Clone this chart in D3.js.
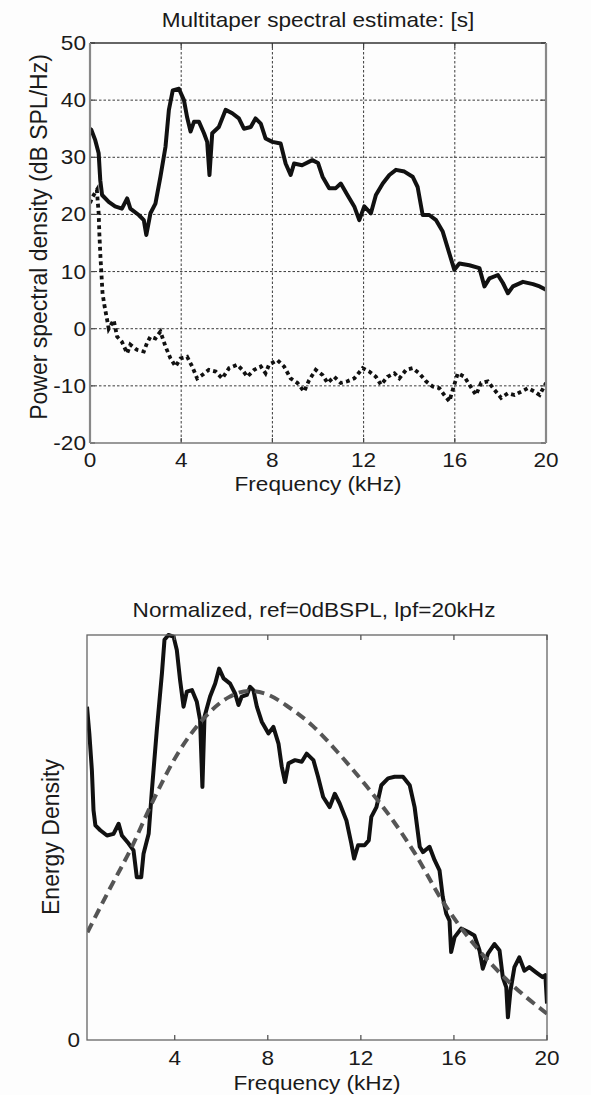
<!DOCTYPE html>
<html>
<head>
<meta charset="utf-8">
<script src="https://cdn.jsdelivr.net/npm/d3@7"></script>
<style>
  html, body { margin: 0; padding: 0; background: #fdfdfd; }
  svg { display: block; }
  text { font-family: "Liberation Sans", Arial, Helvetica, sans-serif; fill: #1a1a1a; }
</style>
</head>
<body>
<script>
// ---- Multitaper PSD (dB SPL/Hz), solid trace ----
const psdFreq = [0.0, 0.06, 0.23, 0.38, 0.45, 0.53, 0.82, 1.1, 1.4, 1.63, 1.77, 2.14, 2.36, 2.47, 2.65, 2.87,
  3.09, 3.31, 3.46, 3.63, 3.9, 4.12, 4.26, 4.41, 4.56, 4.78, 5.0, 5.14, 5.24, 5.36, 5.65, 5.95, 6.24, 6.53,
  6.75, 7.05, 7.26, 7.49, 7.7, 8.0, 8.36, 8.58, 8.8, 8.95, 9.3, 9.75, 10.0, 10.2, 10.49, 10.78, 11.0, 11.29,
  11.59, 11.81, 12.03, 12.32, 12.54, 12.84, 13.13, 13.42, 13.79, 14.15, 14.37, 14.59, 14.88, 15.18, 15.47,
  15.69, 15.98, 16.2, 16.64, 17.08, 17.3, 17.52, 17.89, 18.11, 18.33, 18.55, 18.99, 19.43, 19.72, 20.0];
const psdDb = [35, 34.8, 33, 30.7, 26, 23.4, 22.2, 21.4, 21, 22.8, 21, 19.9, 19, 16.4, 20.2, 21.9,
  26.6, 31.8, 38.3, 41.7, 42, 40, 37, 34.5, 36.2, 36.2, 34.2, 32.7, 26.9, 34.2, 35.3, 38.3, 37.7, 36.8,
  35, 35.3, 36.8, 35.9, 33.3, 32.7, 32.4, 28.9, 26.9, 28.9, 28.6, 29.5, 29.0, 26.6, 24.6, 24.6, 25.4, 23.4,
  21.4, 19, 21.4, 20.2, 23.4, 25.4, 26.9, 27.8, 27.5, 26.6, 24.8, 19.9, 19.9, 19, 17,
  14.1, 10.3, 11.4, 11.1, 10.6, 7.4, 8.8, 9.4, 8, 6.2, 7.4, 8.2, 7.8, 7.4, 6.8];

// ---- Noise floor (dB SPL/Hz), dotted trace ----
const noiseFreq = [0.0, 0.1, 0.3, 0.38, 0.41, 0.45, 0.5, 0.55, 0.64, 0.74, 0.82, 1.04, 1.19, 1.4, 1.63, 1.77,
  2.06, 2.36, 2.5, 2.65, 2.87, 3.09, 3.31, 3.53, 3.75, 3.97, 4.26, 4.48, 4.7, 4.92, 5.21, 5.51, 5.8, 6.1,
  6.46, 6.68, 6.9, 7.2, 7.49, 7.7, 7.85, 8.22, 8.51, 8.8, 9.1, 9.39, 9.61, 9.9, 10.2, 10.42, 10.71, 11.0,
  11.29, 11.59, 11.96, 12.25, 12.54, 12.76, 13.05, 13.35, 13.57, 13.86, 14.15, 14.44, 14.74, 15.03, 15.32,
  15.54, 15.76, 15.91, 16.13, 16.42, 16.64, 16.93, 17.15, 17.45, 17.74, 18.03, 18.33, 18.62, 18.92, 19.21,
  19.5, 19.72, 20.0];
const noiseDb = [22, 23, 24.3, 20.2, 16.7, 13.2, 9.7, 6.2, 3.9, 1.8, 0, 1.5, -1.4, -2.3, -4.3, -2.8,
  -3.7, -4, -2.5, -1.4, -1.7, -0.5, -3.1, -5.2, -6.6, -5.2, -4.9, -6.6, -8.7, -8.1, -7.2, -7.5, -8.7, -6.9,
  -6.3, -7.2, -8.4, -7.2, -6.6, -7.8, -6.3, -5.5, -6.6, -8.7, -9.5, -11, -9, -7.2, -8.1, -9.5, -8.4, -9.5,
  -9.2, -8.7, -6.9, -7.5, -8.4, -9.8, -8.4, -7.8, -8.7, -7.2, -6.9, -7.8, -9.2, -10.1, -10.4,
  -11.6, -12.7, -10.7, -7.8, -8.4, -9.8, -11.6, -9.5, -9.2, -10.7, -12.1, -11.3, -11.6, -11, -10.4,
  -11, -11.6, -9.5];

// ---- Normalized energy density, solid trace ----
const normFreq = [0.23, 0.33, 0.44, 0.51, 0.59, 0.8, 1.09, 1.37, 1.59, 1.73, 2.02, 2.23, 2.37, 2.56, 2.66, 2.88,
  3.02, 3.23, 3.45, 3.56, 3.73, 3.95, 4.09, 4.23, 4.38, 4.52, 4.74, 4.95, 5.09, 5.19, 5.28, 5.52, 5.74, 5.91,
  6.1, 6.38, 6.6, 6.74, 6.88, 7.1, 7.24, 7.38, 7.53, 7.74, 8.03, 8.24, 8.46, 8.6, 8.74, 8.89, 9.17, 9.46,
  9.67, 9.96, 10.16, 10.38, 10.66, 10.88, 11.09, 11.38, 11.59, 11.71, 11.88, 12.16, 12.34, 12.45, 12.67,
  12.88, 13.17, 13.45, 13.81, 14.1, 14.31, 14.53, 14.67, 14.95, 15.17, 15.38, 15.52, 15.67, 15.81, 15.88,
  16.03, 16.31, 16.6, 16.88, 17.1, 17.24, 17.46, 17.74, 17.96, 18.1, 18.25, 18.32, 18.43, 18.6, 18.81,
  19.03, 19.24, 19.53, 19.81, 19.93, 20.0];
const normLevel = [0.823, 0.757, 0.666, 0.567, 0.53, 0.518, 0.505, 0.509, 0.534, 0.505, 0.485, 0.468, 0.402, 0.402, 0.46, 0.509,
  0.617, 0.765, 0.905, 0.988, 1.0, 0.996, 0.963, 0.889, 0.823, 0.86, 0.864, 0.835, 0.79, 0.625, 0.798, 0.848, 0.88, 0.917,
  0.893, 0.88, 0.855, 0.827, 0.848, 0.852, 0.872, 0.864, 0.823, 0.786, 0.757, 0.773, 0.732, 0.675, 0.637, 0.683, 0.691, 0.687,
  0.707, 0.691, 0.65, 0.6, 0.575, 0.608, 0.584, 0.542, 0.485, 0.448, 0.481, 0.481, 0.493, 0.551, 0.575,
  0.629, 0.646, 0.65, 0.65, 0.629, 0.575, 0.477, 0.464, 0.477, 0.444, 0.419, 0.353, 0.312, 0.295, 0.217,
  0.254, 0.275, 0.267, 0.258, 0.221, 0.176, 0.213, 0.237, 0.221, 0.155, 0.13, 0.056, 0.122, 0.18, 0.204,
  0.171, 0.18, 0.167, 0.155, 0.16, 0.09];

// ---- Smooth reference curve, dashed ----
const fitFreq = [0.25, 1.16, 2.16, 3.02, 4.16, 5.31, 6.31, 7.17, 8.03, 8.8, 9.94, 11.09, 12.24, 13.38, 14.31, 15.52, 16.88, 18.3, 20.0];
const fitLevel = [0.266, 0.368, 0.477, 0.585, 0.71, 0.798, 0.846, 0.862, 0.852, 0.826, 0.775, 0.705, 0.627, 0.542, 0.462, 0.342, 0.235, 0.147, 0.065];

// ---- Tick labels ----
const psdXTicks = [0, 4, 8, 12, 16, 20];
const psdYTicks = [-20, -10, 0, 10, 20, 30, 40, 50];
const normXTicks = [4, 8, 12, 16, 20];
const normYTicks = [0];

const W = 591, H = 1095;
const FONT = 20, STRETCH = 1.13;
const svg = d3.select("body").append("svg").attr("width", W).attr("height", H);
svg.append("rect").attr("width", W).attr("height", H).attr("fill", "#fdfdfd");

function hText(g, x, y, str, anchor) {
  return g.append("text")
    .attr("transform", `translate(${x},${y}) scale(${STRETCH},1)`)
    .attr("text-anchor", anchor || "middle")
    .style("font-size", FONT + "px")
    .text(str);
}
function vText(g, x, y, str, size) {
  return g.append("text")
    .attr("transform", `translate(${x},${y}) rotate(-90)`)
    .attr("text-anchor", "middle")
    .style("font-size", size + "px")
    .text(str);
}

// ================= Top panel: PSD =================
{
  const L = 90, R = 546, T = 43, B = 443;
  const x = d3.scaleLinear().domain([0, 20]).range([L, R]);
  const y = d3.scaleLinear().domain([-20, 50]).range([B, T]);
  const g = svg.append("g");

  // dotted grid
  const grid = g.append("g").attr("stroke", "#3a3a3a").attr("stroke-width", 1).attr("stroke-dasharray", "2.5,2");
  grid.selectAll(".gx").data(psdXTicks.filter(d => d > 0 && d < 20)).join("line")
    .attr("x1", d => x(d)).attr("x2", d => x(d)).attr("y1", T).attr("y2", B);
  grid.selectAll(".gy").data(psdYTicks.filter(d => d > -20 && d < 50)).join("line")
    .attr("x1", L).attr("x2", R).attr("y1", d => y(d)).attr("y2", d => y(d));

  // inward ticks on all four sides
  const ax = g.append("g").attr("stroke", "#444").attr("stroke-width", 1.2);
  psdXTicks.forEach(d => {
    ax.append("line").attr("x1", x(d)).attr("x2", x(d)).attr("y1", B).attr("y2", B - 5);
    ax.append("line").attr("x1", x(d)).attr("x2", x(d)).attr("y1", T).attr("y2", T + 5);
  });
  psdYTicks.forEach(d => {
    ax.append("line").attr("x1", L).attr("x2", L + 5).attr("y1", y(d)).attr("y2", y(d));
    ax.append("line").attr("x1", R).attr("x2", R - 5).attr("y1", y(d)).attr("y2", y(d));
  });

  // traces
  const clip = svg.append("clipPath").attr("id", "clipTop");
  clip.append("rect").attr("x", L).attr("y", T).attr("width", R - L).attr("height", B - T);
  const line = d3.line().x(d => x(d[0])).y(d => y(d[1]));
  g.append("path")
    .datum(noiseFreq.map((f, i) => [f, noiseDb[i]]))
    .attr("clip-path", "url(#clipTop)")
    .attr("fill", "none").attr("stroke", "#111").attr("stroke-width", 3.8)
    .attr("stroke-dasharray", "3.8,3.4").attr("d", line);
  g.append("path")
    .datum(psdFreq.map((f, i) => [f, psdDb[i]]))
    .attr("clip-path", "url(#clipTop)")
    .attr("fill", "none").attr("stroke", "#111").attr("stroke-width", 4)
    .attr("stroke-linejoin", "round").attr("d", line);

  // box
  g.append("line").attr("x1", L).attr("x2", R).attr("y1", T).attr("y2", T).attr("stroke", "#333").attr("stroke-width", 1.3);
  g.append("line").attr("x1", L).attr("x2", R).attr("y1", B).attr("y2", B).attr("stroke", "#777").attr("stroke-width", 1.6);
  g.append("line").attr("x1", L).attr("x2", L).attr("y1", T).attr("y2", B).attr("stroke", "#888").attr("stroke-width", 2.2);
  g.append("line").attr("x1", R).attr("x2", R).attr("y1", T).attr("y2", B).attr("stroke", "#888").attr("stroke-width", 2.2);

  // tick labels
  psdXTicks.forEach(d => hText(g, x(d), B + 24, String(d)));
  psdYTicks.forEach(d => hText(g, L - 4, y(d) + 7, String(d), "end"));

  hText(g, (L + R) / 2, 27, "Multitaper spectral estimate: [s]");
  hText(g, (L + R) / 2, 491, "Frequency (kHz)");
  vText(g, 46.5, 237, "Power spectral density (dB SPL/Hz)", 23);
}

// ================= Bottom panel: normalized =================
{
  const L = 87, R = 547, T = 635, B = 1040;
  const x = d3.scaleLinear().domain([0.23, 20]).range([L, R]);
  const y = d3.scaleLinear().domain([0, 1]).range([B, T]);
  const g = svg.append("g");

  const clip = svg.append("clipPath").attr("id", "clipBot");
  clip.append("rect").attr("x", L).attr("y", T - 2).attr("width", R - L).attr("height", B - T + 2);
  const line = d3.line().x(d => x(d[0])).y(d => y(d[1]));

  g.append("path")
    .datum(normFreq.map((f, i) => [f, normLevel[i]]))
    .attr("clip-path", "url(#clipBot)")
    .attr("fill", "none").attr("stroke", "#111").attr("stroke-width", 4)
    .attr("stroke-linejoin", "round").attr("d", line);
  g.append("path")
    .datum(fitFreq.map((f, i) => [f, fitLevel[i]]))
    .attr("clip-path", "url(#clipBot)")
    .attr("fill", "none").attr("stroke", "#555").attr("stroke-width", 4)
    .attr("stroke-dasharray", "10,6").attr("d", d3.line().curve(d3.curveMonotoneX).x(d => x(d[0])).y(d => y(d[1])));

  // box and inward ticks
  g.append("rect").attr("x", L).attr("y", T).attr("width", R - L).attr("height", B - T)
    .attr("fill", "none").attr("stroke", "#666").attr("stroke-width", 1.3);
  const ax = g.append("g").attr("stroke", "#555").attr("stroke-width", 1.3);
  normXTicks.forEach(d => {
    ax.append("line").attr("x1", x(d)).attr("x2", x(d)).attr("y1", B).attr("y2", B - 5);
    ax.append("line").attr("x1", x(d)).attr("x2", x(d)).attr("y1", T).attr("y2", T + 5);
  });

  normXTicks.forEach(d => hText(g, x(d), 1065, String(d)));
  normYTicks.forEach(d => hText(g, L - 7, y(d) + 7, String(d), "end"));

  hText(g, (L + R) / 2 - 3, 617, "Normalized, ref=0dBSPL, lpf=20kHz");
  hText(g, (L + R) / 2, 1090, "Frequency (kHz)");
  vText(g, 59, 837, "Energy Density", 23);
}
</script>
</body>
</html>
